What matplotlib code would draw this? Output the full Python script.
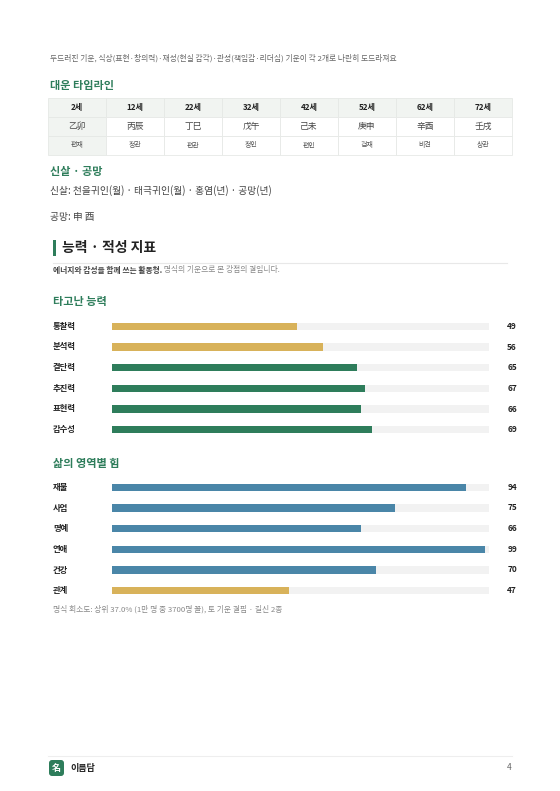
import matplotlib
matplotlib.use("Agg")
import matplotlib.pyplot as plt
from matplotlib.patches import Rectangle, FancyBboxPatch

plt.rcParams['font.family'] = ['Noto Sans CJK KR', 'DejaVu Sans']

ages = ["2세", "12세", "22세", "32세", "42세", "52세", "62세", "72세"]
pillars = ["乙卯", "丙辰", "丁巳", "戊午", "己未", "庚申", "辛酉", "壬戌"]
gods = ["편재", "정관", "편관", "정인", "편인", "겁재", "비견", "상관"]

ability_labels = ["통찰력", "분석력", "결단력", "추진력", "표현력", "감수성"]
ability_values = [49, 56, 65, 67, 66, 69]
ability_colors = ["#d8b25a", "#d8b25a", "#2e7d5b", "#2e7d5b", "#2e7d5b", "#2e7d5b"]

life_labels = ["재물", "사업", "명예", "연애", "건강", "관계"]
life_values = [94, 75, 66, 99, 70, 47]
life_colors = ["#4a86a8", "#4a86a8", "#4a86a8", "#4a86a8", "#4a86a8", "#d8b25a"]

W, H = 560, 791
GREEN = "#2e7d5b"
fig = plt.figure(figsize=(W/100, H/100), dpi=100)
ax = fig.add_axes([0, 0, 1, 1])
ax.set_xlim(0, W); ax.set_ylim(H, 0); ax.axis("off")

ax.text(50, 58, "두드러진 기운, 식상(표현·창의력)·재성(현실 감각)·관성(책임감·리더십) 기운이 각 2개로 나란히 도드라져요",
        fontsize=5.6, color="#666666", va="center")
ax.text(50, 85, "대운 타임라인", fontsize=8, color=GREEN, fontweight="bold", va="center")

# table
x0, cw = 48, 58
rows = [(98, 117, ages, "#f1f4f1", 5.8, "bold", "#222222"),
        (117, 136, pillars, "#ffffff", 6.3, "normal", "#444444"),
        (136, 155, gods, "#ffffff", 5.0, "normal", "#555555")]
for (ya, yb, vals, bg, fs, fw, col) in rows:
    for i, v in enumerate(vals):
        bgc = "#f1f4f1" if (i == 0 or ya == 98) else bg
        ax.add_patch(Rectangle((x0+i*cw, ya), cw, yb-ya, facecolor=bgc, edgecolor="#e6e9e6", lw=0.6))
        ax.text(x0+i*cw+cw/2, (ya+yb)/2, v, fontsize=fs, fontweight=fw, color=col, ha="center", va="center")

ax.text(50, 172, "신살 · 공망", fontsize=8, color=GREEN, fontweight="bold", va="center")
ax.text(50, 191, "신살: 천을귀인(월) · 태극귀인(월) · 홍염(년) · 공망(년)", fontsize=7, color="#444444", va="center")
ax.text(50, 217, "공망: 申 酉", fontsize=7, color="#444444", va="center")

ax.add_patch(Rectangle((53, 240), 3, 16, facecolor=GREEN, edgecolor="none"))
ax.text(62, 248, "능력 · 적성 지표", fontsize=10, fontweight="bold", color="#222222", va="center")
ax.plot([53, 507], [263, 263], color="#e8e8e8", lw=0.8)
t = ax.text(53, 270, "에너지와 감성을 함께 쓰는 활동형.", fontsize=5.6, fontweight="bold", color="#444444", va="center")
ax.annotate(" 명식의 기운으로 본 강점의 결입니다.", xycoords=t, xy=(1, 0.5), va="center",
            fontsize=5.6, color="#888888")

ax.text(53, 302, "타고난 능력", fontsize=8, color=GREEN, fontweight="bold", va="center")
ax.text(53, 463, "삶의 영역별 힘", fontsize=8, color=GREEN, fontweight="bold", va="center")
ax.text(53, 609, "명식 회소도: 상위 37.0% (1만 명 중 3700명 꼴), 토 기운 결핍 · 길신 2종", fontsize=5.6, color="#888888", va="center")

ax.plot([48, 512], [756, 756], color="#eeeeee", lw=0.8)
ax.add_patch(FancyBboxPatch((49, 760), 15, 16, boxstyle="round,pad=0,rounding_size=3", facecolor=GREEN, edgecolor="none"))
ax.text(56.5, 768, "名", fontsize=6.5, color="white", fontweight="bold", ha="center", va="center")
ax.text(70, 768, "이름담", fontsize=6.5, fontweight="bold", color="#222222", va="center")
ax.text(512, 768, "4", fontsize=6, color="#666666", ha="right", va="center")

def bars(ytop, ybot, labels, values, colors):
    bx = fig.add_axes([112/W, 1-ybot/H, (489-112)/W, (ybot-ytop)/H])
    n = len(labels)
    bx.set_xlim(0, 100); bx.set_ylim(n-0.5, -0.5); bx.axis("off")
    for i, (lab, v, c) in enumerate(zip(labels, values, colors)):
        bx.barh(i, 100, height=0.34, color="#f2f2f2")
        bx.barh(i, v, height=0.34, color=c)
        ax.text(53, ytop + (i+0.5)*(ybot-ytop)/n, lab, fontsize=6, fontweight="bold", color="#222222", va="center")
        ax.text(517, ytop + (i+0.5)*(ybot-ytop)/n, str(v), fontsize=6, fontweight="bold", color="#222222", va="center", ha="right")

bars(316, 440, ability_labels, ability_values, ability_colors)
bars(477, 601, life_labels, life_values, life_colors)

fig.savefig("out.png", dpi=100)
